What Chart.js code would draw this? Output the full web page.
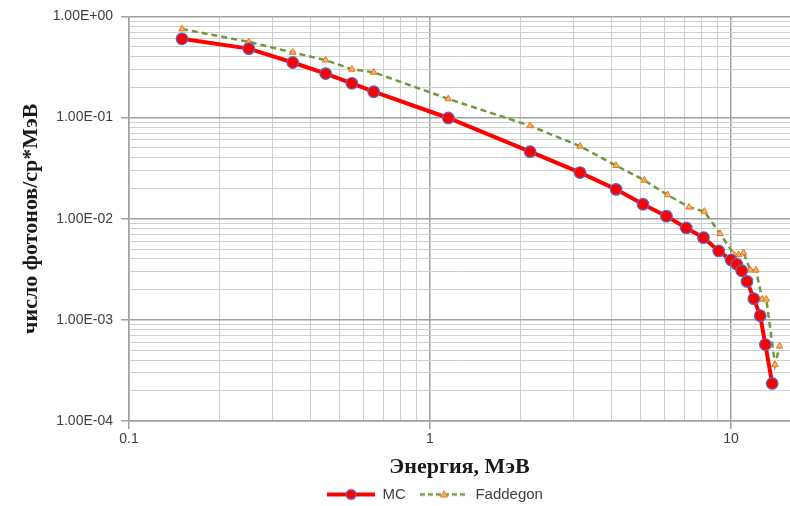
<!DOCTYPE html>
<html>
<head>
<meta charset="utf-8">
<script src="https://cdn.jsdelivr.net/npm/chart.js@4.4.0/dist/chart.umd.min.js"></script>
<style>
    html, body { margin: 0; padding: 0; background: #fff; overflow: hidden; }
    #wrap { width: 790px; height: 506px; }
</style>
</head>
<body>
<div id="wrap"><canvas id="spectrum" width="790" height="506"></canvas></div>
<script>
// данные
const energyMC = [0.15, 0.25, 0.35, 0.45, 0.55, 0.65, 1.15, 2.15, 3.15, 4.15, 5.1, 6.1, 7.1, 8.1, 9.1, 10.0, 10.45, 10.85, 11.3, 11.9, 12.5, 13.0, 13.7];
const countsMC = [0.60, 0.48, 0.35, 0.272, 0.218, 0.18, 0.099, 0.046, 0.0286, 0.0195, 0.0139, 0.0106, 0.0081, 0.0065, 0.0048, 0.0039, 0.00355, 0.00306, 0.0024, 0.00162, 0.0011, 0.00057, 0.000235];

const energyFaddegon = [0.15, 0.25, 0.35, 0.45, 0.55, 0.65, 1.15, 2.15, 3.15, 4.15, 5.15, 6.15, 7.25, 8.15, 9.2, 10.25, 10.6, 11.0, 11.6, 12.1, 12.7, 13.1, 14.0, 14.5];
const countsFaddegon = [0.75, 0.56, 0.44, 0.37, 0.30, 0.28, 0.153, 0.083, 0.052, 0.0335, 0.024, 0.0172, 0.013, 0.0118, 0.0071, 0.0044, 0.0044, 0.0046, 0.0031, 0.0031, 0.0016, 0.0016, 0.00036, 0.00055];

const xTickValues = [0.1, 1, 10];
const xTickLabels = ['0.1', '1', '10'];
const yTickValues = [1e-4, 1e-3, 1e-2, 1e-1, 1];
const yTickLabels = ['1.00E-04', '1.00E-03', '1.00E-02', '1.00E-01', '1.00E+00'];

const gridMajor = '#a0a0a0';
const gridMinor = '#cfcfcf';

// сетка 1..9 * 10^e, подписи только у степеней десяти
function makeTicks(fromExp, toExp, values, labels) {
    const ticks = [];
    for (let e = fromExp; e <= toExp; e++) {
        for (let m = 1; m <= 9; m++) {
            if (e === toExp && m > 1) break;
            const v = m * Math.pow(10, e);
            const idx = values.findIndex(t => Math.abs(Math.log10(t) - Math.log10(v)) < 1e-9);
            ticks.push({ value: v, major: idx >= 0, txt: idx >= 0 ? labels[idx] : '' });
        }
    }
    return ticks;
}

function legendIcon(kind) {
    const c = document.createElement('canvas');
    c.width = 48; c.height = 14;
    const g = c.getContext('2d');
    if (kind === 'mc') {
        g.strokeStyle = '#ff0000'; g.lineWidth = 4;
        g.beginPath(); g.moveTo(0, 7); g.lineTo(48, 7); g.stroke();
        g.fillStyle = '#ff0000'; g.strokeStyle = '#4f6fc4'; g.lineWidth = 1.2;
        g.beginPath(); g.arc(24, 7, 5, 0, Math.PI * 2); g.fill(); g.stroke();
    } else {
        g.strokeStyle = '#6e9a3c'; g.lineWidth = 2.5; g.setLineDash([5, 3]);
        g.beginPath(); g.moveTo(0, 7); g.lineTo(48, 7); g.stroke();
        g.setLineDash([]);
        g.fillStyle = '#f7b26b'; g.strokeStyle = '#e8741c'; g.lineWidth = 1;
        g.beginPath(); g.moveTo(24, 3.5); g.lineTo(27.5, 9.5); g.lineTo(20.5, 9.5); g.closePath(); g.fill(); g.stroke();
    }
    return c;
}

const tickFont = { family: 'Liberation Sans', size: 14 };
const gridOpts = {
    color: c => (c.tick && c.tick.major) ? gridMajor : gridMinor,
    lineWidth: c => (c.tick && c.tick.major) ? 1.5 : 1,
    tickLength: 8,
    tickColor: c => (c.tick && c.tick.major) ? gridMajor : 'rgba(0,0,0,0)'
};

// легенда в Excel сдвинута вправо относительно центра холста
const shiftLegend = {
    id: 'shiftLegend',
    afterLayout(chart) { if (chart.legend) chart.legend.left += 80; }
};

new Chart(document.getElementById('spectrum').getContext('2d'), {
    type: 'line',
    data: {
        datasets: [{
            label: 'MC',
            data: energyMC.map((e, i) => ({ x: e, y: countsMC[i] })),
            borderColor: '#ff0000',
            borderWidth: 4,
            backgroundColor: '#ff0000',
            pointBackgroundColor: '#ff0000',
            pointBorderColor: '#4f6fc4',
            pointBorderWidth: 1.2,
            pointRadius: 5.8,
            tension: 0
        }, {
            label: 'Faddegon',
            data: energyFaddegon.map((e, i) => ({ x: e, y: countsFaddegon[i] })),
            borderColor: '#6e9a3c',
            borderWidth: 2.5,
            borderDash: [6, 4],
            pointStyle: 'triangle',
            pointBackgroundColor: '#f7b26b',
            pointBorderColor: '#e8741c',
            pointBorderWidth: 1,
            pointRadius: 3.8,
            tension: 0
        }]
    },
    plugins: [shiftLegend],
    options: {
        responsive: false,
        animation: false,
        devicePixelRatio: 1,
        layout: { autoPadding: false, padding: { top: 15, right: 0, left: 0, bottom: -6 } },
        scales: {
            x: {
                type: 'logarithmic',
                min: 0.1,
                max: 15.7,
                afterBuildTicks: s => { s.ticks = makeTicks(-1, 1, xTickValues, xTickLabels); },
                afterFit: s => { s.height = 52; s.paddingLeft = 0; s.paddingRight = 0; },
                ticks: {
                    autoSkip: false, maxRotation: 0, padding: 2,
                    color: '#404040', font: tickFont,
                    callback: (v, i, t) => t[i].txt
                },
                grid: gridOpts,
                border: { color: gridMajor, width: 1.5 },
                title: {
                    display: true, text: 'Энергия, МэВ', color: '#1a1a1a',
                    font: { family: 'Liberation Serif', size: 22, weight: 'bold' },
                    padding: { top: 0, bottom: -8 }
                }
            },
            y: {
                type: 'logarithmic',
                min: 1e-4,
                max: 1,
                afterBuildTicks: s => { s.ticks = makeTicks(-4, 0, yTickValues, yTickLabels); },
                afterFit: s => { s.width = 129; },
                ticks: {
                    autoSkip: false, padding: 8,
                    color: '#404040', font: tickFont,
                    callback: (v, i, t) => t[i].txt
                },
                grid: gridOpts,
                border: { color: gridMajor, width: 1.5 },
                title: {
                    display: true, text: 'число фотонов/ср*МэВ', color: '#1a1a1a',
                    font: { family: 'Liberation Serif', size: 22, weight: 'bold' },
                    padding: { top: 18, bottom: 0 }
                }
            }
        },
        plugins: {
            legend: {
                position: 'bottom',
                labels: {
                    usePointStyle: true,
                    pointStyleWidth: 48,
                    boxHeight: 14,
                    padding: 14,
                    color: '#404040',
                    font: { family: 'Liberation Sans', size: 15 },
                    generateLabels: () => [
                        { text: 'MC', pointStyle: legendIcon('mc'), fillStyle: '#ff0000', strokeStyle: '#ff0000', lineWidth: 0, hidden: false, datasetIndex: 0, fontColor: '#404040' },
                        { text: 'Faddegon', pointStyle: legendIcon('fad'), fillStyle: '#6e9a3c', strokeStyle: '#6e9a3c', lineWidth: 0, hidden: false, datasetIndex: 1, fontColor: '#404040' }
                    ]
                }
            },
            tooltip: { enabled: false }
        }
    }
});
</script>
</body>
</html>
